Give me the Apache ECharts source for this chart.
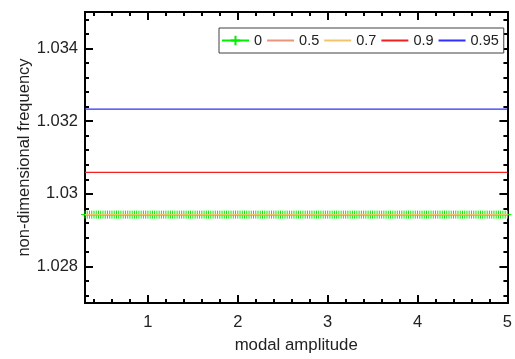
<!DOCTYPE html>
<html>
<head>
<meta charset="utf-8">
<script src="https://cdn.jsdelivr.net/npm/echarts@6/dist/echarts.min.js"></script>
<style>
  html, body { margin: 0; padding: 0; background: #fff; }
  #chart { width: 515px; height: 359px; }
</style>
</head>
<body>
<div id="chart"></div>
<script>
// Sampled modal amplitudes (x values of every curve)
const amplitude = [
  0.3, 0.325, 0.35, 0.375,
  0.4, 0.425, 0.45, 0.475, 0.5, 0.525, 0.55, 0.575, 0.6, 0.625, 0.65, 0.675,
  0.7, 0.725, 0.75, 0.775, 0.8, 0.825, 0.85, 0.875, 0.9, 0.925, 0.95, 0.975,
  1, 1.025, 1.05, 1.075, 1.1, 1.125, 1.15, 1.175, 1.2, 1.225, 1.25, 1.275,
  1.3, 1.325, 1.35, 1.375, 1.4, 1.425, 1.45, 1.475, 1.5, 1.525, 1.55, 1.575,
  1.6, 1.625, 1.65, 1.675, 1.7, 1.725, 1.75, 1.775, 1.8, 1.825, 1.85, 1.875,
  1.9, 1.925, 1.95, 1.975,
  2, 2.025, 2.05, 2.075, 2.1, 2.125, 2.15, 2.175, 2.2, 2.225, 2.25, 2.275,
  2.3, 2.325, 2.35, 2.375, 2.4, 2.425, 2.45, 2.475, 2.5, 2.525, 2.55, 2.575,
  2.6, 2.625, 2.65, 2.675, 2.7, 2.725, 2.75, 2.775, 2.8, 2.825, 2.85, 2.875,
  2.9, 2.925, 2.95, 2.975,
  3, 3.025, 3.05, 3.075, 3.1, 3.125, 3.15, 3.175, 3.2, 3.225, 3.25, 3.275,
  3.3, 3.325, 3.35, 3.375, 3.4, 3.425, 3.45, 3.475, 3.5, 3.525, 3.55, 3.575,
  3.6, 3.625, 3.65, 3.675, 3.7, 3.725, 3.75, 3.775, 3.8, 3.825, 3.85, 3.875,
  3.9, 3.925, 3.95, 3.975,
  4, 4.025, 4.05, 4.075, 4.1, 4.125, 4.15, 4.175, 4.2, 4.225, 4.25, 4.275,
  4.3, 4.325, 4.35, 4.375, 4.4, 4.425, 4.45, 4.475, 4.5, 4.525, 4.55, 4.575,
  4.6, 4.625, 4.65, 4.675, 4.7, 4.725, 4.75, 4.775, 4.8, 4.825, 4.85, 4.875,
  4.9, 4.925, 4.95, 4.975,
  5
];

// Legend names of the curves and their (amplitude-independent) frequency levels
const seriesNames = ['0', '0.5', '0.7', '0.9', '0.95'];
const frequencyLevels = [1.02943, 1.02943, 1.02943, 1.03059, 1.03233];
const seriesColors = ['#00ee00', '#e8957a', '#f2c46a', '#ee2020', '#2f2fff'];

// Axis ticks
const xMajorTicks = [1, 2, 3, 4, 5];
const xMinorTicks = [0.4, 0.6, 0.8, 1.2, 1.4, 1.6, 1.8, 2.2, 2.4, 2.6, 2.8,
                     3.2, 3.4, 3.6, 3.8, 4.2, 4.4, 4.6, 4.8];
const yMajorTicks = [1.028, 1.03, 1.032, 1.034];
const yMinorTicks = [1.0272, 1.0276, 1.0284, 1.0288, 1.0292, 1.0296, 1.0304,
                     1.0308, 1.0312, 1.0316, 1.0324, 1.0328, 1.0332, 1.0336,
                     1.0344, 1.0348];

const X_MIN = 0.3, X_MAX = 5;
const Y_MIN = 1.027, Y_MAX = 1.035;

const FONT = 'Liberation Sans, Arial, Helvetica, sans-serif';
const AXIS_COLOR = '#000';

function xAxisDef(position, ticks, len, withLabels) {
  return {
    type: 'value', position: position, min: X_MIN, max: X_MAX,
    axisLine: { show: true, onZero: false, lineStyle: { color: AXIS_COLOR, width: 2 } },
    axisTick: { show: true, inside: true, length: len, customValues: ticks,
                lineStyle: { color: AXIS_COLOR, width: 2 } },
    axisLabel: withLabels ? {
      show: true, customValues: xMajorTicks, margin: 11,
      fontFamily: FONT, fontSize: 16.5, color: '#222',
      formatter: v => String(+(+v).toFixed(3))
    } : { show: false },
    splitLine: { show: false },
    name: withLabels ? 'modal amplitude' : '',
    nameLocation: 'middle', nameGap: 34,
    nameMoveOverlap: false,
    nameTextStyle: { fontFamily: FONT, fontSize: 16.8, color: '#222' }
  };
}

function yAxisDef(position, ticks, len, withLabels) {
  return {
    type: 'value', position: position, min: Y_MIN, max: Y_MAX,
    axisLine: { show: true, onZero: false, lineStyle: { color: AXIS_COLOR, width: 2 } },
    axisTick: { show: true, inside: true, length: len, customValues: ticks,
                lineStyle: { color: AXIS_COLOR, width: 2 } },
    axisLabel: withLabels ? {
      show: true, customValues: yMajorTicks, margin: 7,
      fontFamily: FONT, fontSize: 16.5, color: '#222',
      formatter: v => String(+(+v).toFixed(4))
    } : { show: false },
    splitLine: { show: false },
    name: withLabels ? 'non-dimensional frequency' : '',
    nameLocation: 'middle', nameGap: 52,
    nameMoveOverlap: false,
    nameTextStyle: { fontFamily: FONT, fontSize: 16.5, color: '#222' }
  };
}

const plusSymbol = 'path://M0,5L10,5M5,0L5,10';

const series = seriesNames.map((name, i) => {
  const s = {
    name: name,
    type: 'line',
    xAxisIndex: 0,
    yAxisIndex: 0,
    data: amplitude.map(a => [a, frequencyLevels[i]]),
    color: seriesColors[i],
    lineStyle: { color: seriesColors[i], width: 1.2 },
    symbol: 'none',
    z: 2 + i,
    animation: false
  };
  if (i === 0) {
    s.symbol = plusSymbol;
    s.symbolSize = 8;
    s.showAllSymbol = true;
    s.itemStyle = { color: seriesColors[i], borderColor: seriesColors[i], borderWidth: 1 };
  }
  return s;
});

// Legend entries: plain line samples, except the marked first curve
const legendData = seriesNames.map((name, i) => i === 0
  ? { name: name }
  : { name: name, itemStyle: { color: 'transparent', borderColor: 'transparent', opacity: 0 } });

const chart = echarts.init(document.getElementById('chart'), null, { renderer: 'canvas' });
chart.setOption({
  animation: false,
  backgroundColor: '#fff',
  grid: { left: 85, right: 3, top: 12, bottom: 56, containLabel: false },
  legend: {
    data: legendData,
    left: 219, top: 28,
    orient: 'horizontal',
    padding: [5, 5, 5, 2],
    itemWidth: 27, itemHeight: 12, itemGap: 4,
    borderColor: '#404040', borderWidth: 1,
    backgroundColor: '#fff',
    textStyle: { fontFamily: FONT, fontSize: 14.5, color: '#222' }
  },
  xAxis: [
    xAxisDef('bottom', xMajorTicks, 8, true),
    xAxisDef('top', xMajorTicks, 8, false),
    xAxisDef('bottom', xMinorTicks, 4, false),
    xAxisDef('top', xMinorTicks, 4, false)
  ],
  yAxis: [
    yAxisDef('left', yMajorTicks, 8, true),
    yAxisDef('right', yMajorTicks, 8, false),
    yAxisDef('left', yMinorTicks, 4, false),
    yAxisDef('right', yMinorTicks, 4, false)
  ],
  series: series
});
</script>
</body>
</html>
